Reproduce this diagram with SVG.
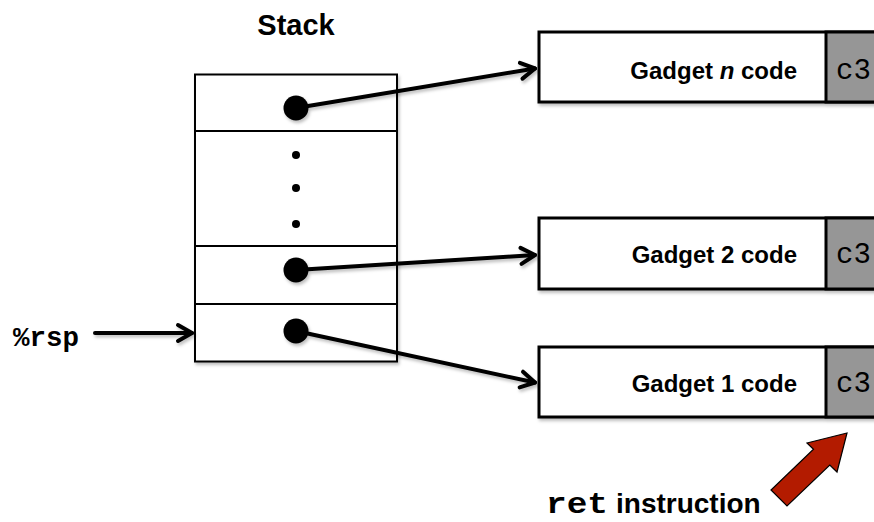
<svg xmlns="http://www.w3.org/2000/svg" width="874" height="522" viewBox="0 0 874 522">
  <style>
    .lbl { font-family: "Liberation Sans", Arial, sans-serif; font-weight: bold; fill: #000; }
    .mono { font-family: "Liberation Mono", "Courier New", monospace; fill: #000; }
    .cell { fill: #fff; stroke: #000; stroke-width: 2; }
    .gbox { fill: #fff; stroke: #000; stroke-width: 3; }
    .ret { fill: #969696; stroke: #000; stroke-width: 3; }
    .conn { stroke: #000; stroke-width: 4; fill: none; stroke-linecap: round; }
    .sh { filter: url(#shadow); }
  </style>
  <defs>
    <filter id="shadow" x="-10%" y="-10%" width="130%" height="140%">
      <feDropShadow dx="1.5" dy="2.5" stdDeviation="1.5" flood-color="#000" flood-opacity="0.25"/>
    </filter>
    <marker id="arr" markerUnits="userSpaceOnUse" markerWidth="22" markerHeight="22" viewBox="0 0 22 22" refX="18" refY="11" orient="auto">
      <path d="M4,3 L18,11 L4,19" fill="none" stroke="#000" stroke-width="4" stroke-linecap="round" stroke-linejoin="round"/>
    </marker>
  </defs>

  <g id="title">
    <text class="lbl" x="296" y="35" font-size="29" text-anchor="middle">Stack</text>
  </g>

  <g id="stack" class="sh">
    <rect class="cell" x="195" y="74.5" width="202" height="287"/>
    <line x1="195" y1="131" x2="397" y2="131" stroke="#000" stroke-width="2"/>
    <line x1="195" y1="246" x2="397" y2="246" stroke="#000" stroke-width="2"/>
    <line x1="195" y1="304" x2="397" y2="304" stroke="#000" stroke-width="2"/>
    <circle cx="296" cy="155" r="4"/>
    <circle cx="296" cy="188" r="4"/>
    <circle cx="296" cy="224" r="4"/>
  </g>

  <g id="gadget-n">
    <g class="sh">
      <rect class="gbox" x="539" y="32" width="345" height="70"/>
      <rect class="ret" x="826" y="32" width="60" height="70"/>
    </g>
    <text class="lbl" x="797" y="79" font-size="24" text-anchor="end">Gadget <tspan font-style="italic">n</tspan> code</text>
    <text class="mono" x="836" y="79" font-size="29">c3</text>
  </g>

  <g id="gadget-2">
    <g class="sh">
      <rect class="gbox" x="539" y="218" width="345" height="71"/>
      <rect class="ret" x="826" y="218" width="60" height="71"/>
    </g>
    <text class="lbl" x="797" y="263" font-size="24" text-anchor="end">Gadget 2 code</text>
    <text class="mono" x="836" y="263" font-size="29">c3</text>
  </g>

  <g id="gadget-1">
    <g class="sh">
      <rect class="gbox" x="539" y="347" width="345" height="70"/>
      <rect class="ret" x="826" y="347" width="60" height="70"/>
    </g>
    <text class="lbl" x="797" y="392" font-size="24" text-anchor="end">Gadget 1 code</text>
    <text class="mono" x="836" y="392" font-size="29">c3</text>
  </g>

  <g id="rsp">
    <text class="mono" x="13" y="346" font-size="27" font-weight="bold" textLength="66" lengthAdjust="spacingAndGlyphs">%rsp</text>
  </g>

  <g id="ret-label">
    <text class="mono" x="546" y="513" font-size="30" font-weight="bold" textLength="62" lengthAdjust="spacingAndGlyphs">ret</text>
    <text class="lbl" x="616" y="513" font-size="28">instruction</text>
    <polygon points="847,433 807,443 813.5,449.3 771,490 787,506 829.8,465.1 837,472" fill="#b31b00" stroke="#000" stroke-width="1.2" stroke-linejoin="miter"/>
  </g>

  <g id="connectors" class="sh">
    <line class="conn" x1="296" y1="108" x2="535" y2="68.5" marker-end="url(#arr)"/>
    <line class="conn" x1="296" y1="270" x2="535" y2="255" marker-end="url(#arr)"/>
    <line class="conn" x1="296" y1="331" x2="535" y2="382.5" marker-end="url(#arr)"/>
    <line class="conn" x1="95" y1="333" x2="192" y2="333" marker-end="url(#arr)"/>
    <circle cx="296" cy="108" r="12.5"/>
    <circle cx="296" cy="270" r="12.5"/>
    <circle cx="296" cy="331" r="12.5"/>
  </g>
</svg>
